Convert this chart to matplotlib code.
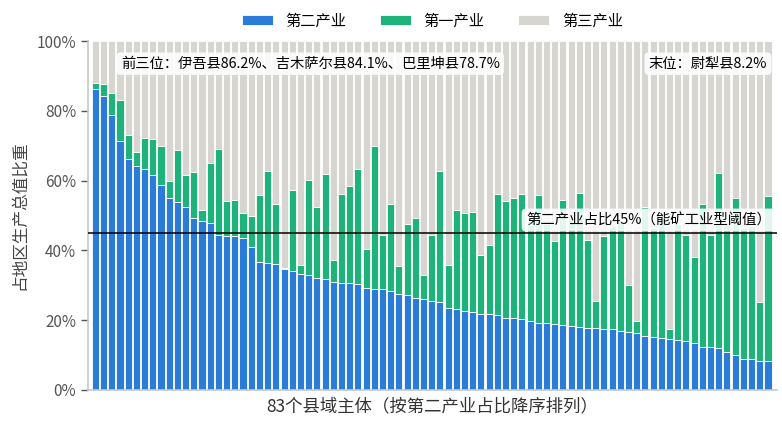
import matplotlib
matplotlib.use("Agg")
import matplotlib.pyplot as plt
from matplotlib.ticker import FuncFormatter
import numpy as np

plt.rcParams['font.family'] = ['Noto Sans CJK SC', 'DejaVu Sans']

# 第二产业占比（降序）
secondary = [86.2, 84.1, 78.7, 71.4, 66.1, 64.1, 63.2, 61.7, 58.7, 55.1,
             54.0, 52.5, 49.3, 48.3, 47.9, 44.3, 44.1, 44.0, 43.5, 41.0,
             36.7, 36.4, 36.1, 34.6, 34.2, 33.2, 33.0, 32.1, 31.7, 30.9,
             30.6, 30.6, 30.3, 29.2, 29.0, 29.0, 28.4, 27.4, 27.3, 26.3,
             26.1, 25.4, 25.2, 23.6, 23.2, 22.5, 22.3, 21.9, 21.7, 21.4,
             20.6, 20.6, 20.4, 19.8, 19.3, 19.2, 19.0, 18.7, 18.4, 18.1,
             17.9, 17.7, 17.6, 17.4, 16.8, 16.6, 16.2, 15.6, 15.3, 14.8,
             14.7, 14.2, 14.0, 13.6, 12.3, 12.3, 11.9, 10.9, 9.9, 9.0,
             9.0, 8.3, 8.2]
# 第一+第二产业合计
first_plus_second = [88.0, 87.6, 85.1, 83.2, 73.1, 68.1, 72.1, 71.8, 69.8, 59.9,
                     68.8, 61.6, 62.4, 51.5, 64.9, 69.1, 54.2, 54.5, 50.7, 49.8,
                     56.0, 62.7, 53.2, 34.9, 57.3, 35.9, 60.1, 52.3, 61.9, 37.2,
                     56.1, 58.5, 63.3, 40.5, 69.9, 44.3, 53.3, 35.4, 47.7, 49.3,
                     32.9, 44.3, 62.7, 35.9, 51.5, 50.7, 50.9, 38.8, 41.5, 56.3,
                     54.1, 55.1, 56.3, 48.5, 55.8, 47.5, 42.6, 54.4, 49.0, 56.4,
                     42.9, 25.4, 44.1, 47.0, 48.0, 30.0, 19.8, 52.5, 46.5, 49.5,
                     17.5, 47.5, 44.3, 38.0, 53.2, 44.5, 62.1, 48.0, 55.1, 46.5,
                     47.0, 25.1, 55.6]

secondary = np.array(secondary)
primary = np.array(first_plus_second) - secondary
tertiary = 100 - secondary - primary

threshold = 45
top_note = "前三位：伊吾县86.2%、吉木萨尔县84.1%、巴里坤县78.7%"
last_note = "末位：尉犁县8.2%"

c_sec = '#2b7bd8'
c_pri = '#1db37b'
c_ter = '#d6d5cf'

x = np.arange(len(secondary))

fig = plt.figure(figsize=(7.82, 4.22), dpi=100)
ax = fig.add_axes([88/782, 1 - 390/422, (777-88)/782, (390-41)/422])

ax.bar(x, secondary, width=0.86, color=c_sec, edgecolor='white', linewidth=0.6, label='第二产业')
ax.bar(x, primary, width=0.86, bottom=secondary, color=c_pri, edgecolor='white', linewidth=0.6, label='第一产业')
ax.bar(x, tertiary, width=0.86, bottom=secondary + primary, color=c_ter, edgecolor='white', linewidth=0.6, label='第三产业')

ax.axhline(threshold, color='black', linewidth=1.1, zorder=5)

box = dict(boxstyle='round,pad=0.3', facecolor='white', edgecolor='none', alpha=0.88)
ax.text(3.1, 93.5, top_note, fontsize=10.3, va='center', ha='left', bbox=box, zorder=6)
ax.text(81.9, 93.5, last_note, fontsize=10.3, va='center', ha='right', bbox=box, zorder=6)
ax.text(52.5, 48.7, "第二产业占比45%（能矿工业型阈值）", fontsize=10.4, va='center', ha='left', bbox=box, zorder=6)

ax.set_xlim(-0.9, 83.1)
ax.set_ylim(0, 100)
ax.set_yticks(range(0, 101, 20))
ax.yaxis.set_major_formatter(FuncFormatter(lambda v, p: f"{v:.0f}%"))
ax.set_xticks([])
ax.tick_params(axis='y', labelsize=11, colors='#555555', length=5, width=1)
for s in ['top', 'right']:
    ax.spines[s].set_visible(False)
for s in ['left', 'bottom']:
    ax.spines[s].set_color('#c8c8c8')
    ax.spines[s].set_linewidth(1.2)

ax.set_ylabel("占地区生产总值比重", fontsize=12, color='#444444', labelpad=6)
ax.set_xlabel("83个县域主体（按第二产业占比降序排列）", fontsize=12.5, color='#333333', labelpad=5)

ax.legend(loc='lower center', bbox_to_anchor=(0.5, 1.0), ncol=3, frameon=False,
          fontsize=11, handlelength=2.0, handleheight=0.65, handletextpad=0.85,
          columnspacing=2.2, borderaxespad=0.35)

fig.savefig("out.png", dpi=100)
